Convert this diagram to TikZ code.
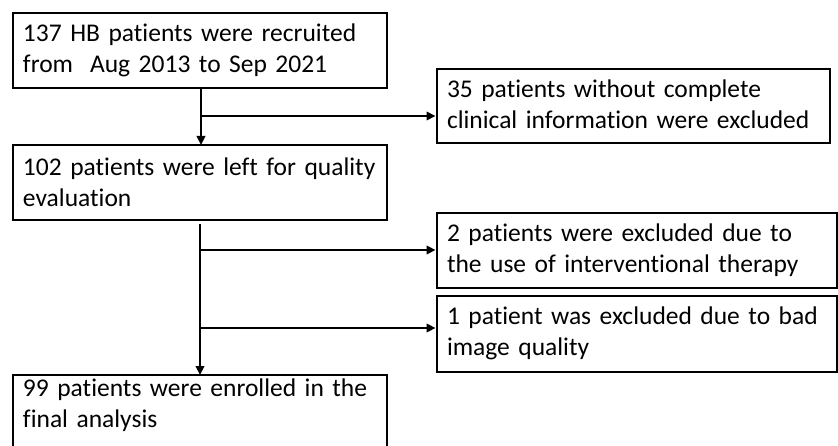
\documentclass[tikz,border=0pt]{standalone}
\usepackage{fontspec}
\setmainfont[Ligatures={NoCommon}]{Carlito}
\usetikzlibrary{arrows.meta}
\begin{document}
\begin{tikzpicture}[x=1pt,y=-1pt,
  box/.style={draw, line width=2.8pt, outer sep=0pt, anchor=north west, align=left,
    inner xsep=10pt, inner ysep=0pt, font=\fontsize{25.5}{31}\selectfont},
  conn/.style={line width=2.4pt},
  arr/.style={line width=2.4pt, -{Triangle[length=9pt,width=8.5pt]}}]
\useasboundingbox (0,0) rectangle (838,446);
\clip (0,0) rectangle (838,446);
\node[box, text width=354pt, text height=29pt, text depth=46pt] (b1) at (13,13)
  {137 HB patients were recruited\\from\ \ Aug 2013 to Sep 2021};
\node[box, text width=354pt, text height=31pt, text depth=44pt] (b2) at (13,145)
  {102 patients were left for quality\\evaluation};
\node[box, text width=373pt, text height=29pt, text depth=45pt] (b3) at (437,69)
  {35 patients without complete\\clinical information were excluded};
\node[box, text width=380pt, text height=29pt, text depth=46pt] (b5) at (437,213)
  {2 patients were excluded due to\\the use of interventional therapy};
\node[box, text width=380pt, text height=29pt, text depth=47pt] (b6) at (437,296)
  {1 patient was excluded due to bad\\image quality};
\node[box, text width=354pt, text height=21pt, text depth=70pt] (b4) at (13,375)
  {99 patients were enrolled in the\\final analysis};
\coordinate (j1) at (201,116);
\coordinate (j2) at (200,250);
\coordinate (j3) at (200,328);
\draw[conn] (b1.south -| j1) -- (j1);
\draw[arr] (j1) -- (b2.north -| j1);
\draw[arr, shorten >=1.5pt] (j1) -- (j1 -| b3.west);
\draw[conn, shorten <=4pt] (b2.south -| j2) -- (j2);
\draw[conn] (j2) -- (j3);
\draw[arr] (j3) -- (b4.north -| j3);
\draw[arr, shorten >=1.5pt] (j2) -- (j2 -| b5.west);
\draw[arr, shorten >=1.5pt] (j3) -- (j3 -| b6.west);
\end{tikzpicture}
\end{document}
